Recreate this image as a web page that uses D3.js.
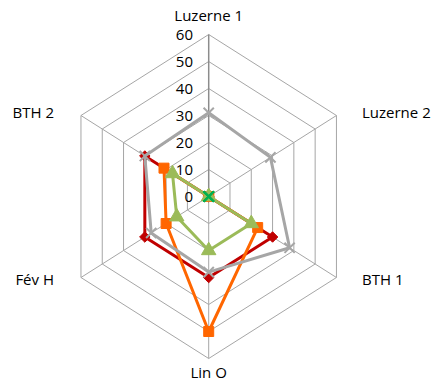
<!DOCTYPE html>
<html>
<head>
<meta charset="utf-8">
<script src="https://cdn.jsdelivr.net/npm/d3@7"></script>
<style>
  body { margin: 0; background: #fff; }
  svg { display: block; font-family: "Open Sans", sans-serif; }
</style>
</head>
<body>
<div id="chart"></div>
<script>
const categories = ["Luzerne 1", "Luzerne 2", "BTH 1", "Lin O", "Fév H", "BTH 2"];
const ticks = [0, 10, 20, 30, 40, 50, 60];

const seriesRed    = [0, 0, 30, 30, 30, 30];
const seriesOrange = [0, 0, 23, 50, 20, 21];
const seriesGreen  = [0, 0, 20, 20, 15, 17];
const seriesGray   = [31, 29, 38, 28, 27, 30];
const seriesZero   = [0, 0, 0, 0, 0, 0];

const series = [
  { values: seriesRed, color: "#c00000", marker: "diamond" },
  { values: seriesOrange, color: "#ff6600", marker: "square" },
  { values: seriesGreen, color: "#9bbb59", marker: "triangle" },
  { values: seriesGray, color: "#a6a6a6", marker: "cross" },
  { values: seriesZero, color: "#00b050", marker: "cross", noLine: true }
];

const width = 433, height = 383;
const cx = 208.7, cy = 196.5;

// radial scales (plot is a bit wider than tall)
const rx = d3.scaleLinear().domain([0, 60]).range([0, 147.5]);
const ry = d3.scaleLinear().domain([0, 60]).range([0, 162]);

const angle = i => i * Math.PI / 3;
const px = (i, v) => cx + Math.sin(angle(i)) * rx(v);
const py = (i, v) => cy - Math.cos(angle(i)) * ry(v);

const svg = d3.select("#chart").append("svg")
  .attr("width", width)
  .attr("height", height);

// grid rings
ticks.filter(t => t > 0).forEach(t => {
  svg.append("path")
    .attr("d", d3.line()(categories.map((c, i) => [px(i, t), py(i, t)])) + "Z")
    .attr("fill", "none")
    .attr("stroke", "#a6a6a6")
    .attr("stroke-width", 1);
});

// spokes
categories.forEach((c, i) => {
  svg.append("line")
    .attr("x1", cx).attr("y1", cy)
    .attr("x2", px(i, 60)).attr("y2", py(i, 60))
    .attr("stroke", i === 0 ? "#8c8c8c" : "#a6a6a6")
    .attr("stroke-width", i === 0 ? 1.5 : 1);
});

// tick labels
svg.append("g").selectAll("text")
  .data(ticks)
  .enter().append("text")
  .attr("x", 193)
  .attr("y", d => py(0, d))
  .attr("dy", "0.35em")
  .attr("text-anchor", "end")
  .attr("font-size", "15px")
  .attr("fill", "#000")
  .text(d => d);

// category labels
const labelPos = [
  { x: cx, y: 16, anchor: "middle" },
  { x: 362, y: 113, anchor: "start" },
  { x: 362, y: 280, anchor: "start" },
  { x: cx, y: 373, anchor: "middle" },
  { x: 54, y: 280, anchor: "end" },
  { x: 54, y: 113, anchor: "end" }
];
svg.append("g").selectAll("text")
  .data(categories)
  .enter().append("text")
  .attr("x", (d, i) => labelPos[i].x)
  .attr("y", (d, i) => labelPos[i].y)
  .attr("dy", "0.35em")
  .attr("text-anchor", (d, i) => labelPos[i].anchor)
  .attr("font-size", "15px")
  .attr("fill", "#000")
  .text(d => d);

// series
const symbols = {
  diamond: d3.symbol().type(d3.symbolDiamond2).size(70),
  square: d3.symbol().type(d3.symbolSquare).size(100),
  triangle: d3.symbol().type(d3.symbolTriangle).size(90),
  cross: d3.symbol().type(d3.symbolX).size(70)
};

series.forEach(s => {
  const pts = s.values.map((v, i) => [px(i, v), py(i, v)]);
  if (!s.noLine) {
    svg.append("path")
      .attr("d", d3.line()(pts) + "Z")
      .attr("fill", "none")
      .attr("stroke", s.color)
      .attr("stroke-width", 3)
      .attr("stroke-linejoin", "round");
  }
  svg.append("g").selectAll("path")
    .data(pts)
    .enter().append("path")
    .attr("transform", d => `translate(${d[0]},${d[1]})`)
    .attr("d", symbols[s.marker])
    .attr("fill", s.marker === "cross" ? "none" : s.color)
    .attr("stroke", s.color)
    .attr("stroke-width", s.marker === "cross" ? 2 : 1);
});
</script>
</body>
</html>
